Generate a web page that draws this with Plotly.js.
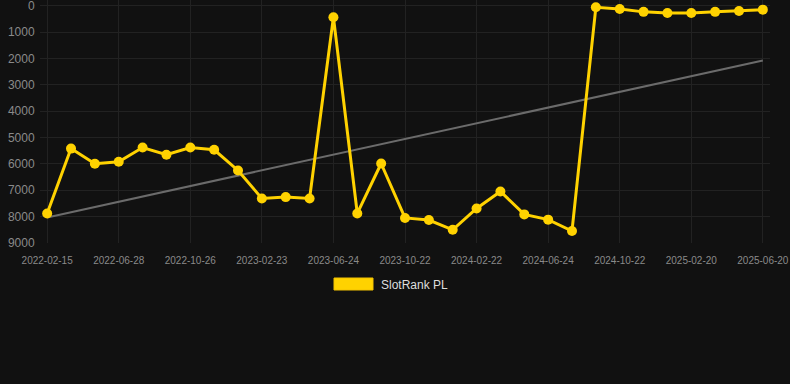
<!DOCTYPE html>
<html>
<head>
<meta charset="utf-8">
<script src="https://cdn.plot.ly/plotly-3.0.1.min.js"></script>
<style>
html,body{margin:0;padding:0;background:#111111;}
#chart{width:790px;height:384px;}
</style>
</head>
<body>
<div id="chart"></div>
<script>
const dates = ["2022-02-15","2022-03-29","2022-05-13","2022-06-28","2022-08-07","2022-09-16","2022-10-26","2022-12-05","2023-01-14","2023-02-23","2023-04-04","2023-05-14","2023-06-24","2023-08-03","2023-09-12","2023-10-22","2023-12-02","2024-01-12","2024-02-22","2024-04-03","2024-05-14","2024-06-24","2024-08-03","2024-09-12","2024-10-22","2024-12-01","2025-01-10","2025-02-20","2025-04-01","2025-05-11","2025-06-20"];
const rank = [7880,5420,5995,5920,5380,5655,5380,5465,6250,7310,7260,7310,440,7880,5985,8050,8130,8500,7690,7045,7915,8115,8545,60,125,235,275,275,235,200,150];
const tickLabels = ["2022-02-15","2022-06-28","2022-10-26","2023-02-23","2023-06-24","2023-10-22","2024-02-22","2024-06-24","2024-10-22","2025-02-20","2025-06-20"];
const trendX = ["2022-02-15","2025-06-20"];
const trendY = [8030,2080];
const yTicks = [0,1000,2000,3000,4000,5000,6000,7000,8000,9000];
const seriesName = "SlotRank PL";

const gold = "#FFD200";
const traces = [
  {x: trendX, y: trendY, type: "scatter", mode: "lines", line: {color: "#6b6b6b", width: 2}, showlegend: false, hoverinfo: "skip"},
  {x: dates, y: rank, type: "scatter", mode: "lines+markers", name: seriesName,
   line: {color: gold, width: 3}, marker: {color: gold, size: 10}, showlegend: false}
];
const L = 40, R = 20, T = 0, B = 141;
const W = 790, H = 384;
const pw = W - L - R, ph = H - T - B;
function px(xp){return (xp - L)/pw;}
function py(yp){return (H - B - yp)/ph;}
const layout = {
  width: W, height: H,
  paper_bgcolor: "#111111", plot_bgcolor: "#111111",
  margin: {l: L, r: R, t: T, b: B},
  font: {family: "Liberation Sans, Arial, sans-serif", color: "#888888"},
  showlegend: false,
  xaxis: {type: "category", categoryorder: "array", categoryarray: dates,
    range: [-0.3, 30.3], tickvals: tickLabels, ticktext: tickLabels,
    showgrid: true, gridcolor: "#222222", gridwidth: 1, zeroline: false, showline: false,
    ticks: "outside", ticklen: 8, tickcolor: "rgba(0,0,0,0)", tickfont: {size: 10, color: "#8a8a8a"},
    ticklabeloverflow: "allow"},
  yaxis: {autorange: false, range: [9000, -215], tickvals: yTicks, ticktext: yTicks.map(String),
    showgrid: true, gridcolor: "#222222", gridwidth: 1, zeroline: false, showline: false,
    ticks: "outside", ticklen: 2, tickcolor: "rgba(0,0,0,0)", tickfont: {size: 12, color: "#8a8a8a"},
    ticklabeloverflow: "allow"},
  shapes: [{type: "rect", xref: "paper", yref: "paper", x0: px(334), x1: px(373), y0: py(290), y1: py(278),
    fillcolor: gold, line: {color: "#f2c200", width: 1}}],
  annotations: [{xref: "paper", yref: "paper", x: px(379), y: py(284.5), xanchor: "left", yanchor: "middle",
    text: seriesName, showarrow: false, font: {size: 12, color: "#dddddd"}}]
};
Plotly.newPlot("chart", traces, layout, {displayModeBar: false, staticPlot: true});
</script>
</body>
</html>
